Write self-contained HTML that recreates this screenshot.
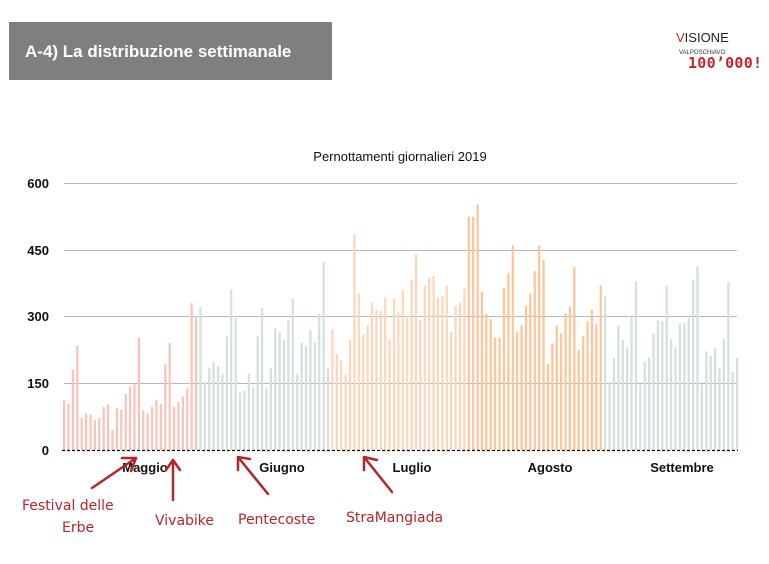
<!DOCTYPE html>
<html><head><meta charset="utf-8"><style>
body{margin:0;background:#fff;width:769px;height:559px;overflow:hidden;font-family:"Liberation Sans",sans-serif}
</style></head><body>
<svg width="769" height="559" xmlns="http://www.w3.org/2000/svg" font-family="Liberation Sans, sans-serif">
<rect x="9" y="22" width="323" height="58" fill="#7f7f7f"/>
<text x="25" y="57" fill="#fff" font-size="17" font-weight="bold">A-4) La distribuzione settimanale</text>
<text x="676" y="42" font-size="13" fill="#222"><tspan fill="#c0272d">V</tspan>ISIONE</text>
<text x="679" y="54" font-size="6" fill="#333">VALPOSCHIAVO</text>
<text x="688" y="68" font-size="15" fill="#c0272d" font-weight="bold" font-family="DejaVu Sans Mono, monospace" textLength="74">100’000!</text>
<text x="400" y="161" font-size="13" text-anchor="middle" fill="#111">Pernottamenti giornalieri 2019</text>
<g stroke="#b8b8b8" stroke-width="1">
<line x1="64" y1="183.5" x2="737" y2="183.5"/><line x1="64" y1="250.5" x2="737" y2="250.5"/><line x1="64" y1="316.5" x2="737" y2="316.5"/><line x1="64" y1="383.5" x2="737" y2="383.5"/>
</g>
<g font-size="13" font-weight="bold" fill="#111" text-anchor="end">
<text x="49" y="188">600</text><text x="49" y="255">450</text><text x="49" y="321">300</text><text x="49" y="388">150</text><text x="49" y="455">0</text>
</g>
<g id="bars"></g>
<line x1="62" y1="450.5" x2="738" y2="450.5" stroke="#000" stroke-width="1.2" stroke-dasharray="3,2"/>
<g font-size="13" font-weight="bold" fill="#111" text-anchor="middle">
<text x="145" y="472">Maggio</text><text x="282" y="472">Giugno</text><text x="412" y="472">Luglio</text><text x="550" y="472">Agosto</text><text x="682" y="472">Settembre</text>
</g>
<g fill="none" stroke="#b3262b" stroke-width="2.5" stroke-linecap="round" stroke-linejoin="round">
<path d="M92 488 L136 458 M122 458 L136 458 L131 471"/>
<path d="M173 500 L173 461 M166 470 L173 460 L180 470"/>
<path d="M268 494 L238 457 M238 470 L238 457 L250 459"/>
<path d="M392 492 L364 457 M364 470 L364 457 L377 460"/>
</g>
<g fill="#b3262b" font-size="14" font-family="DejaVu Sans, sans-serif">
<text x="22" y="510">Festival delle</text><text x="62" y="532">Erbe</text>
<text x="155" y="525">Vivabike</text><text x="238" y="524">Pentecoste</text><text x="346" y="522">StraMangiada</text>
</g>
</svg>
<script>
var d=[112,103,180,234,72,82,80,67,72,97,103,45,94,90,126,142,148,252,88,82,97,112,103,193,240,97,108,120,138,330,301,
322,153,184,198,189,171,255,360,297,129,133,172,141,255,319,138,184,274,265,247,292,340,171,241,234,269,241,306,423,184,
271,216,201,169,247,485,352,259,280,331,315,312,342,249,340,310,360,301,382,441,292,370,386,391,342,346,369,265,324,331,363,
524,524,552,355,306,294,252,252,364,397,460,265,280,324,352,402,460,427,194,240,279,262,306,322,412,225,256,289,315,282,370,346,
153,207,280,247,231,303,379,147,199,207,262,292,289,370,249,231,285,285,297,382,412,147,222,211,229,184,249,377,175,207];
var s='',pitch=(737-64)/(d.length-1);
for(var i=0;i<d.length;i++){var c=i<31?'#f9c3b7':i<61?'#d3e0db':i<92?'#fdd5b8':i<123?'#fdc497':'#d3e0db';
var h=d[i]*0.445;s+='<rect x="'+(63+i*pitch).toFixed(2)+'" y="'+(450-h).toFixed(1)+'" width="2.2" height="'+h.toFixed(1)+'" fill="'+c+'"/>';}
document.getElementById('bars').innerHTML=s;
</script>
</body></html>
